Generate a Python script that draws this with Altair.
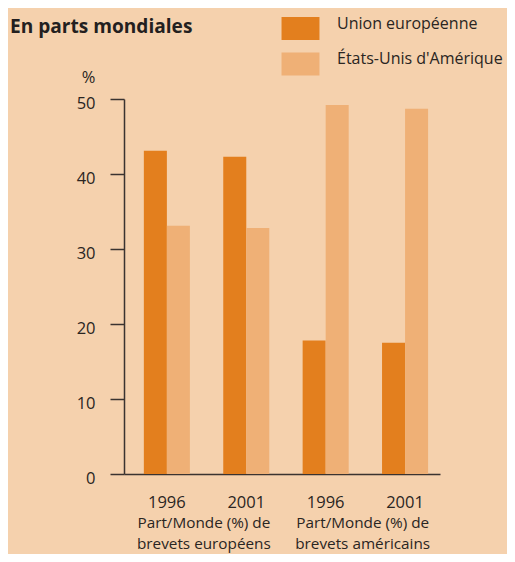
import altair as alt
import pandas as pd

# ---- data ----
categories = ["1996 EPO", "2001 EPO", "1996 USPTO", "2001 USPTO"]
series = ["Union européenne", "États-Unis d'Amérique"]
eu_values = [43.1, 42.3, 17.8, 17.5]
us_values = [33.1, 32.8, 49.2, 48.7]
group_cats = ["1996 EPO", "1996 USPTO"]
group_labels = [["Part/Monde (%) de", "brevets européens"],
                ["Part/Monde (%) de", "brevets américains"]]
y_ticks = [0, 10, 20, 30, 40, 50]
title_text = ["En parts mondiales"]

rows = []
for c, e, u in zip(categories, eu_values, us_values):
    rows.append({"cat": c, "series": series[0], "value": e})
    rows.append({"cat": c, "series": series[1], "value": u})
df = pd.DataFrame(rows)
lab_df = pd.DataFrame({"cat": group_cats, "label": group_labels})
title_df = pd.DataFrame({"t": title_text})

BG = "#F5D1AD"
EU = "#E37F1E"
US = "#EFB076"
TXT = "#2A2522"
AX = "#3A3330"
FONT = "Open Sans"

W, H = 316, 375

xscale = alt.Scale(domain=categories, paddingInner=0.42, paddingOuter=0.2, align=0.625)

bars = alt.Chart(df).mark_bar().encode(
    x=alt.X("cat:N", scale=xscale, sort=categories,
            axis=alt.Axis(title=None, labelExpr="split(datum.label, ' ')[0]",
                          ticks=False, tickSize=0, labelPadding=33,
                          labelBaseline="alphabetic", labelAngle=0,
                          labelFontSize=16.5, labelColor=TXT, labelFont=FONT,
                          domainColor=AX, domainWidth=1.5)),
    xOffset=alt.XOffset("series:N", sort=series, scale=alt.Scale(domain=series, paddingInner=0, paddingOuter=0)),
    y=alt.Y("value:Q", scale=alt.Scale(domain=[0, 50], nice=False),
            axis=alt.Axis(values=y_ticks, title="%", titleAngle=0, titleX=-36, titleY=-17,
                          titleAlign="center", titleBaseline="alphabetic",
                          titleFontSize=16.5, titleFontWeight="normal", titleColor=TXT, titleFont=FONT,
                          grid=False, tickSize=14, tickWidth=1.5, tickColor=AX,
                          domainColor=AX, domainWidth=1.5,
                          labelFontSize=16.5, labelColor=TXT, labelFont=FONT,
                          labelPadding=15, labelOffset=4)),
    color=alt.Color("series:N", sort=series,
                    scale=alt.Scale(domain=series, range=[EU, US]),
                    legend=alt.Legend(title=None, orient="none", legendX=165, legendY=-82,
                                      symbolType="M-1.65,-1H1.65V1H-1.65Z", symbolSize=529,
                                      symbolStrokeWidth=0, symbolOpacity=1,
                                      labelOffset=25, rowPadding=10.5, padding=0,
                                      labelFontSize=16, labelColor=TXT, labelFont=FONT,
                                      labelBaseline="alphabetic", labelLimit=300)),
)

glabels = alt.Chart(lab_df).mark_text(
    align="center", baseline="alphabetic", dx=37, fontSize=15.3, font=FONT,
    color=TXT, lineHeight=21
).encode(
    x=alt.X("cat:N", scale=xscale, sort=categories),
    y=alt.value(H + 54),
    text="label",
)

title = alt.Chart(title_df).mark_text(
    align="left", baseline="alphabetic", fontSize=19.1, fontWeight="bold",
    font=FONT, color="#231F20"
).encode(
    x=alt.value(-114), y=alt.value(-66), text="t:N"
)

chart = alt.layer(bars, glabels, title).properties(
    width=W, height=H,
    background=BG,
    autosize=alt.AutoSizeParams(type="none"),
    padding={"left": 116, "top": 91, "right": 67, "bottom": 80},
).configure_view(stroke=None)

chart.save("out.html", embed_options={"renderer": "svg", "actions": False})
